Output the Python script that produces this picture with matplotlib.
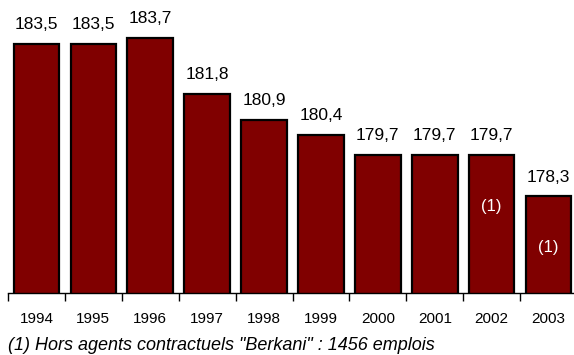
import numpy as np
import matplotlib.pyplot as plt

plt.rcParams['font.family'] = ['Liberation Sans', 'DejaVu Sans']

years = ['1994', '1995', '1996', '1997', '1998', '1999', '2000', '2001', '2002', '2003']
effectifs = [183.5, 183.5, 183.7, 181.8, 180.9, 180.4, 179.7, 179.7, 179.7, 178.3]
labels = ['183,5', '183,5', '183,7', '181,8', '180,9', '180,4', '179,7', '179,7', '179,7', '178,3']
renvoi = ['', '', '', '', '', '', '', '', '(1)', '(1)']

fig = plt.figure(figsize=(5.74, 3.55), dpi=100)
ax = fig.add_axes([8/574, 62/355, 569/574, 293/355])

x = np.arange(len(years))
ax.bar(x, effectifs, width=0.8, color='#800000', edgecolor='black', linewidth=1.6, zorder=2)

for i, v in enumerate(effectifs):
    ax.annotate(labels[i], (x[i], v), xytext=(0, 8.5), textcoords='offset points',
                ha='center', va='bottom', fontsize=12.5)
    if renvoi[i]:
        ax.text(x[i], v - 1.75, renvoi[i], ha='center', va='center', color='white', fontsize=12)

ax.set_xlim(-0.5, len(years) - 0.5)
ax.set_ylim(175, 185)
ax.set_yticks([])
for s in ['top', 'right', 'left']:
    ax.spines[s].set_visible(False)
ax.spines['bottom'].set_linewidth(1)

# ticks between categories, labels centred under bars
ax.set_xticks(np.arange(len(years) + 1) - 0.5)
ax.set_xticklabels([])
ax.tick_params(axis='x', length=6, width=1, direction='out')
ax.set_xticks(x, minor=True)
ax.set_xticklabels(years, minor=True, fontsize=11)
ax.tick_params(axis='x', which='minor', length=0, pad=14)

fig.text(8/574, 1 - 345/355, '(1) Hors agents contractuels "Berkani" : 1456 emplois',
         fontsize=13, style='italic', va='center', ha='left')

fig.savefig('out.png', dpi=100)
